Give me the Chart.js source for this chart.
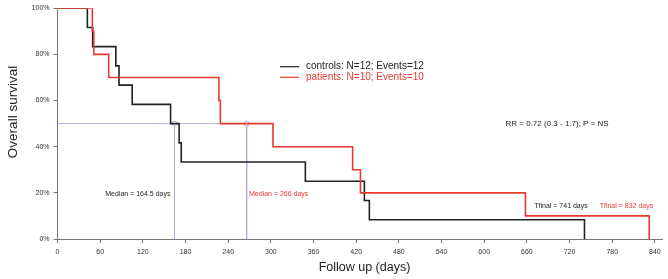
<!DOCTYPE html>
<html>
<head>
<meta charset="utf-8">
<script src="https://cdn.jsdelivr.net/npm/chart.js@4.4.2/dist/chart.umd.min.js"></script>
<style>
  html, body { margin: 0; padding: 0; background: #fff; }
  #wrap { width: 668px; height: 279px; }
</style>
</head>
<body>
<div id="wrap"><canvas id="km"></canvas></div>
<script>
// event times (days) and survival after each event
const controlDays = [0, 42, 49.5, 82, 86.5, 105, 159, 171, 174, 348.5, 431.5, 438.5, 741];
const controlSurv = [1, 11/12, 10/12, 9/12, 8/12, 7/12, 6/12, 5/12, 4/12, 3/12, 2/12, 1/12, 0];
const patientDays = [0, 49, 51, 72, 227, 229, 303, 415, 426, 658, 832];
const patientSurv = [1, 0.9, 0.8, 0.7, 0.6, 0.5, 0.4, 0.3, 0.2, 0.1, 0];
const medianDays = [164.5, 266];
const xTicks = [0, 60, 120, 180, 240, 300, 360, 420, 480, 540, 600, 660, 720, 780, 840];
const yTicks = [0, 0.2, 0.4, 0.6, 0.8, 1];
const legendLabels = ['controls: N=12; Events=12', 'patients: N=10; Events=10'];

const BLACK = '#222222';
const RED = '#e8392f';
const PURPLE = '#b4aede';
const FONT = '"Liberation Sans", Arial, sans-serif';

const pts = (xs, ys) => xs.map((x, i) => ({ x: x, y: ys[i] }));

// lower "order" is drawn on top
const datasets = [
  {
    label: 'median',
    data: [{ x: 0, y: 0.5 }, { x: medianDays[1], y: 0.5 }],
    borderColor: PURPLE, borderWidth: 1, pointRadius: 0, order: 5
  },
  ...medianDays.map(d => ({
    label: 'median',
    data: [{ x: d, y: 0.5 }, { x: d, y: 0 }],
    borderColor: PURPLE, borderWidth: 1, order: 4,
    pointRadius: [2.5, 0], pointBackgroundColor: '#fff', pointBorderColor: PURPLE, pointBorderWidth: 1
  })),
  {
    label: legendLabels[0],
    data: pts(controlDays, controlSurv),
    borderColor: BLACK, borderWidth: 1.6, stepped: true, pointRadius: 0, order: 2
  },
  {
    label: legendLabels[1],
    data: pts(patientDays, patientSurv),
    borderColor: RED, borderWidth: 1.6, stepped: true, pointRadius: 0, order: 1
  }
];

const notes = [
  { text: 'Median = 164.5 days', x: 113, y: 0.194, color: '#222', size: 7 },
  { text: 'Median = 266 days', x: 311, y: 0.194, color: RED, size: 7 },
  { text: 'Tfinal = 741 days', x: 708, y: 0.1435, color: '#222', size: 7 },
  { text: 'Tfinal = 832 days', x: 800, y: 0.1435, color: RED, size: 7 },
  { text: 'RR = 0.72 (0.3 - 1.7); P = NS', x: 702.5, y: 0.497, color: '#222', size: 8 }
];

const overlay = {
  id: 'overlay',
  afterDraw(chart) {
    const ctx = chart.ctx;
    const xs = chart.scales.x, ys = chart.scales.y;
    ctx.save();
    ctx.textBaseline = 'middle';
    ctx.textAlign = 'center';
    notes.forEach(n => {
      ctx.font = n.size + 'px ' + FONT;
      ctx.fillStyle = n.color;
      ctx.fillText(n.text, xs.getPixelForValue(n.x), ys.getPixelForValue(n.y));
    });
    // legend
    const legendColors = [BLACK, RED];
    ctx.textAlign = 'left';
    ctx.font = '10px ' + FONT;
    legendLabels.forEach((t, i) => {
      const y = 66.7 + i * 10.6;
      ctx.strokeStyle = legendColors[i];
      ctx.lineWidth = 1.2;
      ctx.beginPath();
      ctx.moveTo(280, y);
      ctx.lineTo(299, y);
      ctx.stroke();
      ctx.fillStyle = legendColors[i];
      ctx.fillText(t, 306, y);
    });
    // axis titles
    ctx.fillStyle = '#222';
    ctx.textAlign = 'center';
    ctx.font = '12.5px ' + FONT;
    ctx.fillText('Follow up (days)', 364.5, 268);
    ctx.translate(13, 112);
    ctx.rotate(-Math.PI / 2);
    ctx.font = '13.5px ' + FONT;
    ctx.fillText('Overall survival', 0, 0);
    ctx.restore();
  }
};

new Chart(document.getElementById('km'), {
  type: 'line',
  data: { datasets: datasets },
  options: {
    animation: false,
    responsive: true,
    maintainAspectRatio: false,
    layout: { padding: { top: 7, right: 6, left: 0, bottom: 0 } },
    scales: {
      x: {
        type: 'linear',
        min: 0,
        max: 850,
        afterBuildTicks: (scale) => {
          scale.ticks = xTicks.map(v => ({ value: v }));
        },
        afterFit: (scale) => { scale.height = 40; },
        ticks: {
          color: '#333', padding: 5, maxRotation: 0, autoSkip: false,
          font: { size: 7, family: FONT }
        },
        grid: { drawOnChartArea: false, drawTicks: true, tickLength: 4, color: '#777' },
        border: { display: true, color: '#777', width: 1 }
      },
      y: {
        min: 0,
        max: 1,
        afterBuildTicks: (scale) => {
          scale.ticks = yTicks.map(v => ({ value: v }));
        },
        afterFit: (scale) => { scale.width = 57.5; },
        ticks: {
          color: '#333', padding: 4,
          font: { size: 7, family: FONT },
          callback: (v) => Math.round(v * 100) + '%'
        },
        grid: { drawOnChartArea: false, drawTicks: true, tickLength: 4, color: '#777' },
        border: { display: true, color: '#777', width: 1 }
      }
    },
    plugins: {
      legend: { display: false },
      tooltip: { enabled: false }
    }
  },
  plugins: [overlay]
});
</script>
</body>
</html>
